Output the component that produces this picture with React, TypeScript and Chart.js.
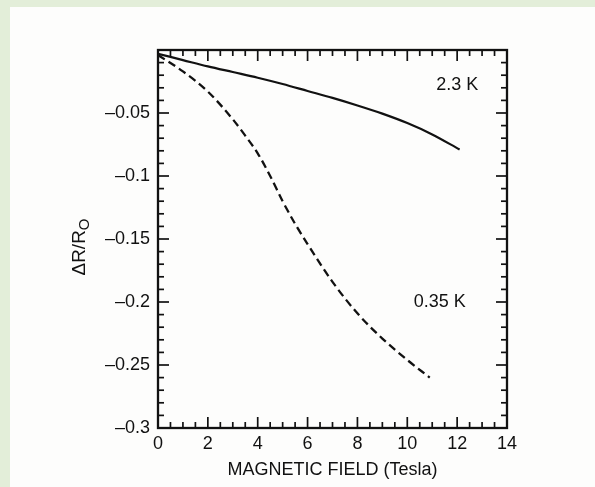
import React, { useEffect, useRef } from 'react';
import { Chart, registerables } from 'chart.js';

Chart.register(...registerables);

// ---- data ----
const FIELD_23K = [0, 1, 2, 3, 4, 5, 6, 7, 8, 9, 10, 11, 12.1];
const DR_23K = [-0.003, -0.008, -0.013, -0.0175, -0.022, -0.027, -0.0325, -0.038, -0.044, -0.0505, -0.058, -0.067, -0.079];

const FIELD_035K = [0, 1, 2, 3, 3.5, 4, 4.5, 5, 5.5, 6, 7, 8, 9, 10, 10.9];
const DR_035K = [-0.004, -0.017, -0.033, -0.055, -0.068, -0.082, -0.1, -0.12, -0.138, -0.154, -0.184, -0.209, -0.229, -0.246, -0.26];

const X_MIN = 0;
const X_MAX = 14;
const X_STEP = 2;
const X_MINOR = 0.5;
const Y_MIN = -0.3;
const Y_MAX = 0;
const Y_STEP = 0.05;
const Y_MINOR = 0.01;

const X_TITLE = 'MAGNETIC FIELD (Tesla)';
const Y_TITLE_MAIN = 'ΔR/R';
const Y_TITLE_SUB = 'O';

const SERIES_LABELS = ['2.3 K', '0.35 K'];
const LABEL_AT_X = [12, 11.3];
const LABEL_AT_Y = [-0.028, -0.2];

const INK = '#111111';
const FONT = '"Liberation Sans", Arial, Helvetica, sans-serif';

const framePlugin = {
  id: 'frame',
  afterDraw(chart: any) {
    const { ctx, chartArea: a, scales } = chart;
    const xs = scales.x;
    const ys = scales.y;
    ctx.save();
    ctx.strokeStyle = INK;
    ctx.lineCap = 'butt';
    ctx.lineWidth = 1.7;
    const seg = (x1: number, y1: number, x2: number, y2: number) => {
      ctx.beginPath();
      ctx.moveTo(x1, y1);
      ctx.lineTo(x2, y2);
      ctx.stroke();
    };
    const nx = Math.round((X_MAX - X_MIN) / X_MINOR);
    const xMajorEvery = Math.round(X_STEP / X_MINOR);
    for (let i = 0; i <= nx; i++) {
      const px = xs.getPixelForValue(X_MIN + i * X_MINOR);
      const len = i % xMajorEvery === 0 ? 11 : 6;
      seg(px, a.bottom, px, a.bottom - len);
      seg(px, a.top, px, a.top + len);
    }
    const ny = Math.round((Y_MAX - Y_MIN) / Y_MINOR);
    const yMajorEvery = Math.round(Y_STEP / Y_MINOR);
    for (let j = 0; j <= ny; j++) {
      const py = ys.getPixelForValue(Y_MIN + j * Y_MINOR);
      const len = j % yMajorEvery === 0 ? 11 : 6;
      seg(a.left, py, a.left + len, py);
      seg(a.right, py, a.right - len, py);
    }
    ctx.lineWidth = 2.3;
    ctx.strokeRect(a.left, a.top, a.right - a.left, a.bottom - a.top);

    ctx.fillStyle = INK;
    // x title
    ctx.font = `18px ${FONT}`;
    ctx.textAlign = 'center';
    ctx.textBaseline = 'middle';
    ctx.fillText(X_TITLE, (a.left + a.right) / 2, a.bottom + 42);

    // series annotations
    for (let k = 0; k < SERIES_LABELS.length; k++) {
      ctx.fillText(SERIES_LABELS[k], xs.getPixelForValue(LABEL_AT_X[k]), ys.getPixelForValue(LABEL_AT_Y[k]));
    }

    // y title with subscript
    ctx.save();
    ctx.translate(a.left - 79, (a.top + a.bottom) / 2 + 8);
    ctx.rotate(-Math.PI / 2);
    ctx.textAlign = 'left';
    ctx.textBaseline = 'alphabetic';
    ctx.font = `19px ${FONT}`;
    const wMain = ctx.measureText(Y_TITLE_MAIN).width;
    ctx.font = `15px ${FONT}`;
    const wSub = ctx.measureText(Y_TITLE_SUB).width;
    const start = -(wMain + wSub) / 2;
    ctx.font = `19px ${FONT}`;
    ctx.fillText(Y_TITLE_MAIN, start, 6);
    ctx.font = `15px ${FONT}`;
    ctx.fillText(Y_TITLE_SUB, start + wMain, 10);
    ctx.restore();

    ctx.restore();
  },
};

const fmtY = (v: number) => {
  const r = Math.round(v * 100) / 100;
  if (r === 0) return '';
  return '\u2013' + String(Math.abs(r));
};

export default function App() {
  const ref = useRef<HTMLCanvasElement | null>(null);

  useEffect(() => {
    if (!ref.current) return;
    const chart = new Chart(ref.current, {
      type: 'line',
      data: {
        datasets: [
          {
            label: SERIES_LABELS[0],
            data: FIELD_23K.map((x, i) => ({ x, y: DR_23K[i] })),
            borderColor: INK,
            borderWidth: 2.2,
            pointRadius: 0,
            cubicInterpolationMode: 'monotone',
            fill: false,
          },
          {
            label: SERIES_LABELS[1],
            data: FIELD_035K.map((x, i) => ({ x, y: DR_035K[i] })),
            borderColor: INK,
            borderWidth: 2.3,
            borderDash: [8, 4.5],
            pointRadius: 0,
            cubicInterpolationMode: 'monotone',
            fill: false,
          },
        ],
      },
      options: {
        animation: false,
        responsive: false,
        devicePixelRatio: 1,
        layout: { padding: { top: 50, right: 88, left: 0, bottom: 0 } },
        plugins: {
          legend: { display: false },
          tooltip: { enabled: false },
          title: { display: false },
        },
        scales: {
          x: {
            type: 'linear',
            min: X_MIN,
            max: X_MAX,
            grid: { display: false, drawTicks: false },
            border: { display: false },
            ticks: {
              stepSize: X_STEP,
              color: INK,
              font: { family: FONT, size: 18 },
              padding: 5,
              maxRotation: 0,
              autoSkip: false,
            },
            afterFit: (s: any) => {
              s.height = 59;
            },
          },
          y: {
            type: 'linear',
            min: Y_MIN,
            max: Y_MAX,
            grid: { display: false, drawTicks: false },
            border: { display: false },
            ticks: {
              stepSize: Y_STEP,
              color: INK,
              font: { family: FONT, size: 18 },
              padding: 8,
              callback: (v: any) => fmtY(Number(v)),
            },
            afterFit: (s: any) => {
              s.width = 158;
            },
          },
        },
      },
      plugins: [framePlugin],
    } as any);
    return () => chart.destroy();
  }, []);

  return (
    <div style={{ position: 'fixed', left: 0, top: 0, width: 595, height: 487, background: '#e3eed9', overflow: 'hidden' }}>
      <div style={{ position: 'absolute', left: 10, top: 7, right: 0, bottom: 0, background: '#fdfdfc' }} />
      <canvas ref={ref} width={595} height={487} style={{ position: 'absolute', left: 0, top: 0, width: 595, height: 487 }} />
    </div>
  );
}
